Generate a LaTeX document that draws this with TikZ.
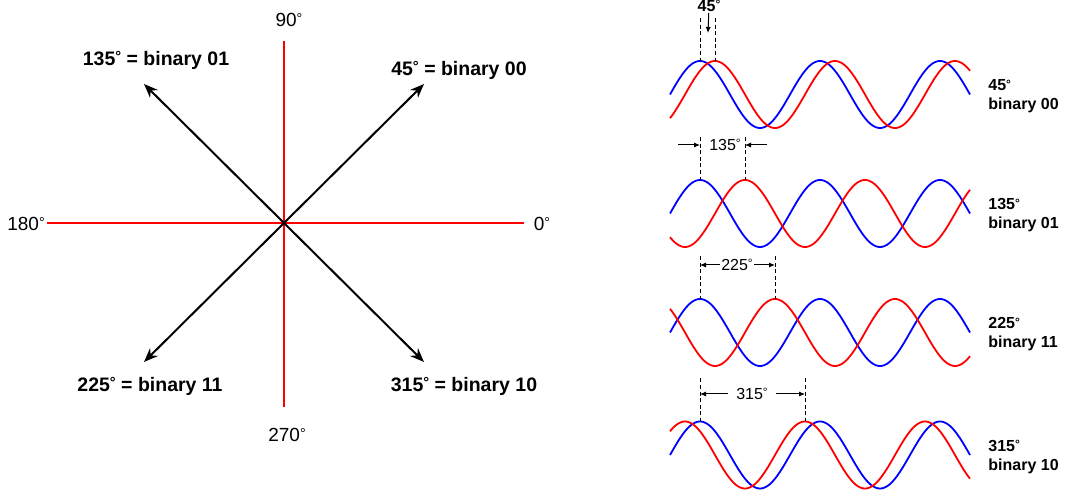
\documentclass[tikz,border=0pt]{standalone}
\usepackage{fontspec}
\setmainfont{Liberation Sans}
\usetikzlibrary{arrows.meta, positioning}
\newcommand{\dgsign}{\raisebox{.35ex}{\scalebox{.75}{°}}}
\tikzset{
  axis/.style     = {red, line width=0.65pt},
  vec/.style      = {-{Stealth[length=7pt, width=5.5pt]}, line width=1pt, black},
  lbl/.style      = {font=\fontsize{9.75}{11}\selectfont\bfseries, inner sep=0pt},
  anglbl/.style   = {font=\fontsize{9.5}{11}\selectfont, inner sep=0pt},
  carrier/.style  = {blue, line width=0.9pt},
  shifted/.style  = {red, line width=0.9pt},
  marker/.style   = {dash pattern=on 2pt off 1.3pt, line width=0.5pt, black},
  dimarr/.style   = {-{Latex[length=3pt, width=2.6pt]}, line width=0.5pt},
  dimlbl/.style   = {font=\fontsize{8}{9}\selectfont, inner sep=0.5pt},
  wavelbl/.style  = {font=\fontsize{8}{9.5}\selectfont\bfseries, align=left,
                     anchor=west, inner sep=0pt},
}
\begin{document}
\begin{tikzpicture}[x=0.5pt, y=-0.5pt]
  \useasboundingbox (0,0) rectangle (1066,491);

  % constellation
  \coordinate (o) at (284,223);
  \coordinate (ax-n) at (284,41);
  \coordinate (ax-s) at (284,407);
  \coordinate (ax-w) at (47,223);
  \coordinate (ax-e) at (524,223);

  \node[anglbl] (a90)  at (289,20)  {90\dgsign};
  \node[anglbl] (a180) at (26,224)  {180\dgsign};
  \node[anglbl] (a0)   at (542,224) {0\dgsign};
  \node[anglbl] (a270) at (287,435) {270\dgsign};

  \draw[axis] (ax-w) -- (ax-e);
  \draw[axis] (ax-n) -- (ax-s);

  \coordinate (p45)  at (424,84);
  \coordinate (p135) at (144,84);
  \coordinate (p225) at (144,362);
  \coordinate (p315) at (424,362);
  \foreach \p in {45,135,225,315}
    \draw[vec] (o) -- (p\p);

  \node[lbl] (l135) at (156,60)  {135\dgsign{} = binary 01};
  \node[lbl] (l45)  at (459,70)  {45\dgsign{} = binary 00};
  \node[lbl] (l225) at (150,386) {225\dgsign{} = binary 11};
  \node[lbl] (l315) at (464,386) {315\dgsign{} = binary 10};

  % waveforms
  \foreach \yc/\ph/\code [count=\i] in {94.5/45/00, 213.5/135/01, 332.5/225/11, 455/315/10} {
    \draw[carrier] plot[domain=0:900, samples=181, smooth] ({670+\x/3},{\yc-33.5*sin(\x)});
    \draw[shifted] plot[domain=0:900, samples=181, smooth] ({670+\x/3},{\yc-33.5*sin(\x-\ph)});
    \coordinate (pk\i) at (700,{\yc-33.5});
    \coordinate (rk\i) at ({700+\ph/3},{\yc-33.5});
    \coordinate (tp\i) at (700,{\yc-76.5});
    \coordinate (tr\i) at ({700+\ph/3},{\yc-76.5});
    \draw[marker] (tp\i) -- (pk\i);
    \draw[marker] (tr\i) -- (rk\i);
    \node[wavelbl] (w\i) at (988,{\yc+2}) {\ph\dgsign\\binary \code};
  }

  \node[dimlbl, font=\fontsize{8}{9}\selectfont\bfseries] (d1) at (709,6) {45\dgsign};
  \coordinate (d1tip) at (708,33);
  \draw[dimarr] (d1) -- (d1tip);

  \node[dimlbl] (d2) at (725,145) {135\dgsign};
  \coordinate (d2l) at (678,145);
  \coordinate (d2r) at (767,145);
  \draw[dimarr] (d2l) -- (tp2 |- d2);
  \draw[dimarr] (d2r) -- (tr2 |- d2);

  \node[dimlbl] (d3) at (737,265) {225\dgsign};
  \draw[dimarr] (d3.west) -- (tp3 |- d3);
  \draw[dimarr] (d3.east) -- (tr3 |- d3);

  \node[dimlbl, inner xsep=4pt] (d4) at (752,394) {315\dgsign};
  \draw[dimarr] (d4.west) -- (tp4 |- d4);
  \draw[dimarr] (d4.east) -- (tr4 |- d4);
\end{tikzpicture}
\end{document}
